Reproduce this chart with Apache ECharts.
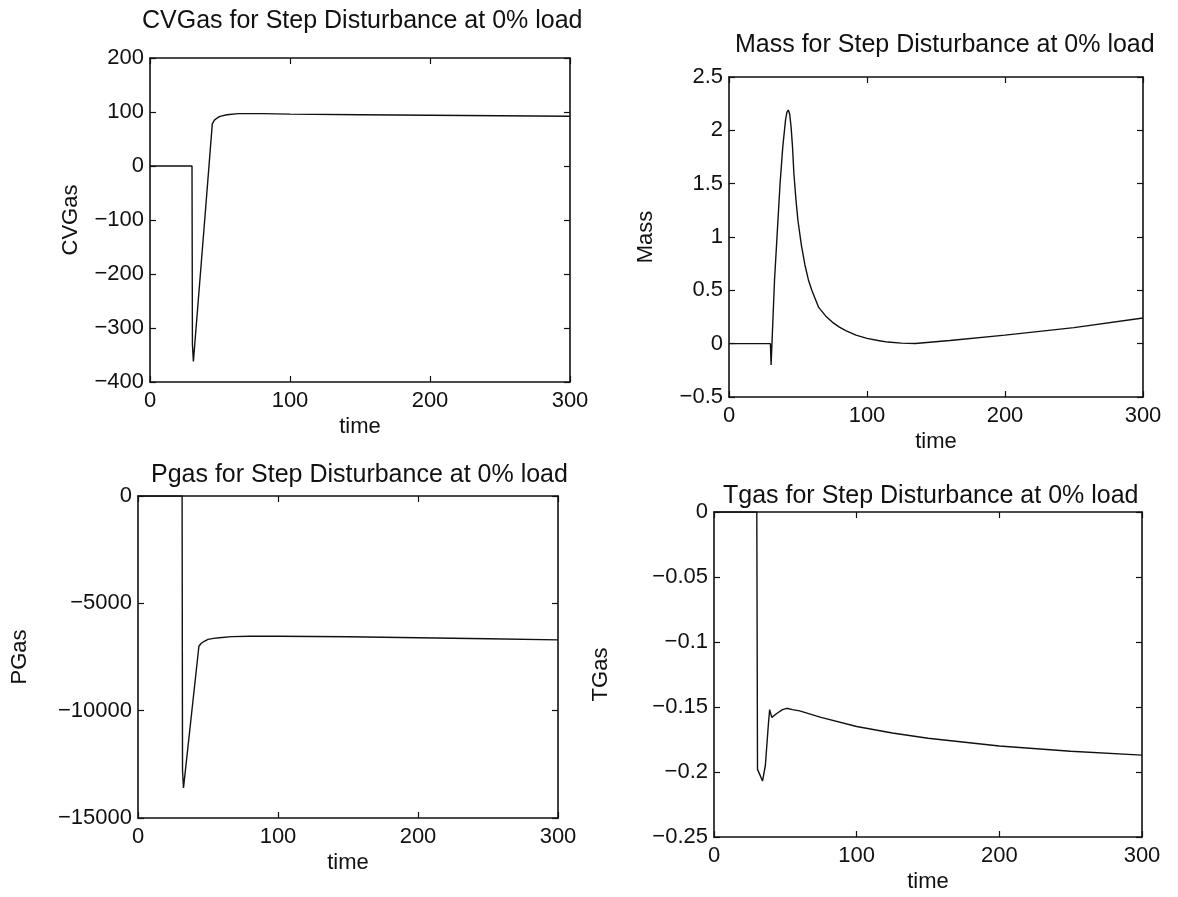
<!DOCTYPE html>
<html>
<head>
<meta charset="utf-8">
<script src="https://cdn.jsdelivr.net/npm/echarts@6/dist/echarts.min.js"></script>
<style>
  html, body { margin: 0; padding: 0; background: #fff; }
  #main { width: 1178px; height: 897px; }
</style>
</head>
<body>
<div id="main"></div>
<script>
// data (time in s)
const cvTime = [0, 30, 30.3, 31, 35, 40, 44.5, 46, 48, 50, 55, 63, 80, 100, 150, 200, 250, 300]
const cvVals = [0, 0, -330, -362, -232, -70, 78, 85, 89, 92, 95, 97, 97, 96, 95, 94, 93, 92]

const massTime = [0, 30, 30.5, 33, 35, 37, 39, 41, 42, 43, 44, 45, 46, 47, 48.5, 50, 52.5, 55, 57.5, 60, 65, 70, 75, 80, 85, 92, 100, 108, 115, 125, 135, 160, 200, 250, 300]
const massVals = [0, 0, -0.2, 0.6, 1.05, 1.5, 1.85, 2.1, 2.17, 2.19, 2.15, 2.03, 1.85, 1.6, 1.35, 1.15, 0.92, 0.74, 0.6, 0.5, 0.34, 0.26, 0.2, 0.155, 0.12, 0.08, 0.05, 0.03, 0.015, 0.005, 0.002, 0.03, 0.08, 0.15, 0.24]

const pTime = [0, 31.5, 31.8, 32.5, 43.5, 45, 47, 50, 54, 58, 67, 80, 100, 150, 200, 250, 300]
const pVals = [0, 0, -12800, -13600, -7000, -6870, -6780, -6680, -6630, -6600, -6550, -6530, -6530, -6560, -6600, -6650, -6700]

const tTime = [0, 30, 30.5, 32.5, 34, 36, 38, 39, 40.5, 44, 48, 51, 55, 60, 75, 100, 125, 150, 200, 250, 300]
const tVals = [0, 0, -0.198, -0.203, -0.207, -0.195, -0.165, -0.152, -0.158, -0.155, -0.152, -0.151, -0.152, -0.153, -0.158, -0.165, -0.17, -0.174, -0.18, -0.184, -0.187]

const xTicks = { min: 0, max: 300, interval: 100 }
const cvTicks = { min: -400, max: 200, interval: 100 }
const massTicks = { min: -0.5, max: 2.5, interval: 0.5 }
const pTicks = { min: -15000, max: 0, interval: 5000 }
const tTicks = { min: -0.25, max: 0, interval: 0.05 }

const titles = [
  'CVGas for Step Disturbance at 0% load',
  'Mass for Step Disturbance at 0% load',
  'Pgas for Step Disturbance at 0% load',
  'Tgas for Step Disturbance at 0% load'
]
const yNames = ['CVGas', 'Mass', 'PGas', 'TGas']

const font = 'Liberation Sans, Arial, sans-serif'
const fs = 22

const grids = [
  { left: 150, top: 58, width: 420, height: 324 },
  { left: 729, top: 77, width: 414, height: 320 },
  { left: 138, top: 496, width: 420, height: 322 },
  { left: 714, top: 512, width: 428, height: 325 }
]
const titlePos = [[137, 4], [730, 28], [146, 458], [718, 479]]
const yGaps = [68, 72, 107, 102]

const fmt = v => String(Math.round(v * 1000) / 1000).replace('-', '\u2212')
const pairs = (t, v) => t.map((x, i) => [x, v[i]])

const lineCol = '#111'
const axisLine = { show: true, onZero: false, lineStyle: { color: lineCol, width: 1.6 } }
const tick = { show: true, inside: true, length: 6, lineStyle: { color: lineCol, width: 1.2 } }

let xAxis = [], yAxis = [], series = []
const yTicks = [cvTicks, massTicks, pTicks, tTicks]
const datas = [pairs(cvTime, cvVals), pairs(massTime, massVals), pairs(pTime, pVals), pairs(tTime, tVals)]

grids.forEach((g, i) => {
  xAxis.push({
    type: 'value', gridIndex: i, ...xTicks, position: 'bottom',
    name: 'time', nameLocation: 'middle', nameGap: 34,
    nameTextStyle: { color: lineCol, fontSize: fs, fontFamily: font },
    axisLine, axisTick: tick, splitLine: { show: false },
    axisLabel: { color: lineCol, fontSize: fs, fontFamily: font, margin: 8, formatter: fmt }
  })
  xAxis.push({
    type: 'value', gridIndex: i, ...xTicks, position: 'top',
    axisLine, axisTick: tick, splitLine: { show: false }, axisLabel: { show: false }
  })
  yAxis.push({
    type: 'value', gridIndex: i, ...yTicks[i], position: 'left',
    name: yNames[i], nameLocation: 'middle', nameGap: yGaps[i], nameRotate: 90,
    nameTextStyle: { color: lineCol, fontSize: fs, fontFamily: font },
    axisLine, axisTick: tick, splitLine: { show: false },
    axisLabel: { color: lineCol, fontSize: fs, fontFamily: font, margin: 6, formatter: fmt }
  })
  yAxis.push({
    type: 'value', gridIndex: i, ...yTicks[i], position: 'right',
    axisLine, axisTick: tick, splitLine: { show: false }, axisLabel: { show: false }
  })
  series.push({
    type: 'line', xAxisIndex: 2 * i, yAxisIndex: 2 * i,
    data: datas[i], smooth: false, symbol: 'none',
    lineStyle: { color: lineCol, width: 1.4 }
  })
})

const chart = echarts.init(document.getElementById('main'), null, { renderer: 'canvas' })
chart.setOption({
  backgroundColor: '#fff',
  animation: false,
  title: titles.map((t, i) => ({
    text: t, left: titlePos[i][0], top: titlePos[i][1],
    textStyle: { color: lineCol, fontSize: 25, fontWeight: 'normal', fontFamily: font }
  })),
  grid: grids,
  xAxis,
  yAxis,
  series
})
</script>
</body>
</html>
